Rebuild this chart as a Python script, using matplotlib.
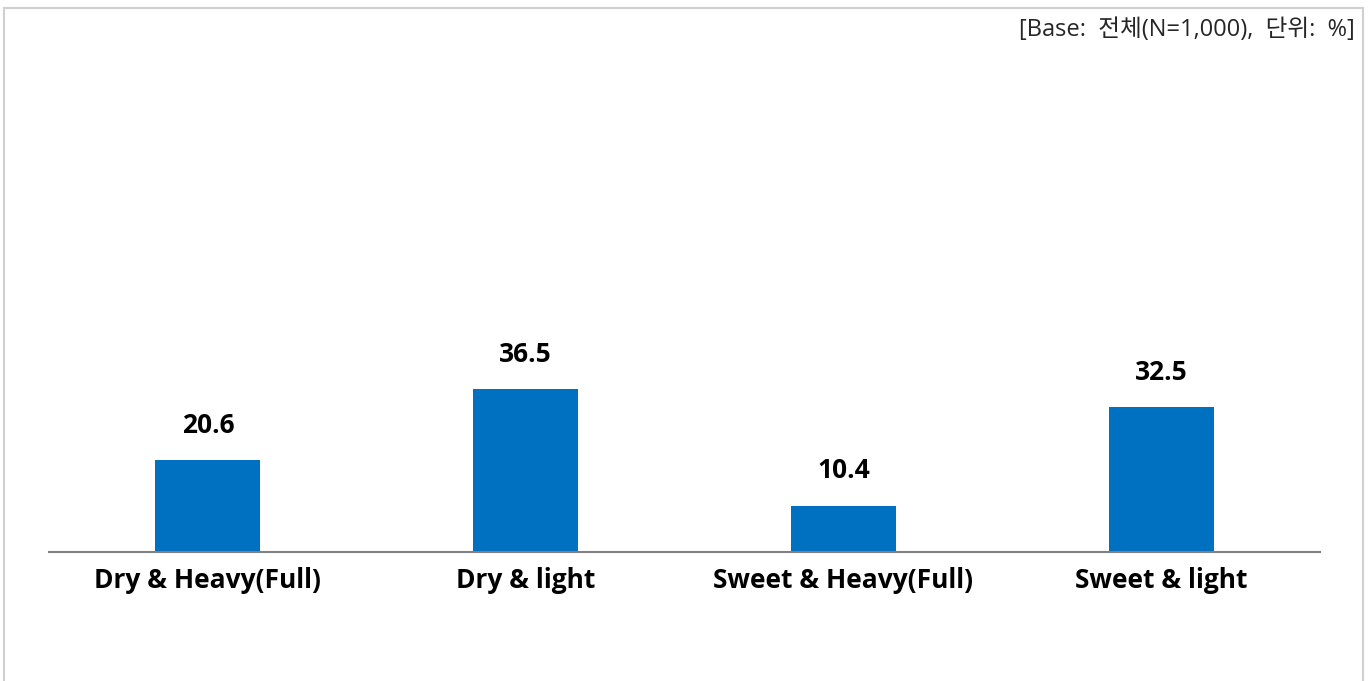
import matplotlib.pyplot as plt
from matplotlib.patches import Rectangle

plt.rcParams['font.family'] = ['Open Sans', 'Noto Sans CJK KR', 'DejaVu Sans']

# chart data
categories = ["Dry & Heavy(Full)", "Dry & light", "Sweet & Heavy(Full)", "Sweet & light"]
values = [20.6, 36.5, 10.4, 32.5]
base_note = "[Base:  전체(N=1,000),  단위:  %]"

fig = plt.figure(figsize=(13.7, 6.81), dpi=100)

# outer frame of the original slide box
fig.patches.append(Rectangle((4 / 1370, -0.01), 1359 / 1370, 1 - 8 / 681 + 0.01,
                             transform=fig.transFigure, fill=False,
                             edgecolor="#d0d0d0", linewidth=1.5))

ax = fig.add_axes([49 / 1370, 1 - 552 / 681, 1271 / 1370, 510 / 681])
x = range(len(categories))
bars = ax.bar(x, values, width=0.33, color="#0070C0")

ax.set_xlim(-0.5, len(categories) - 0.5)
ax.set_ylim(0, 114.3)

for b, v in zip(bars, values):
    ax.annotate(f"{v:.1f}", (b.get_x() + b.get_width() / 2, v),
                xytext=(0, 25), textcoords="offset points",
                ha="center", va="center", fontsize=19, fontweight="bold")

ax.set_xticks(list(x))
ax.set_xticklabels(categories, fontsize=19, fontweight="bold")
ax.tick_params(axis="x", length=0, pad=11)
ax.set_yticks([])
for s in ["top", "right", "left"]:
    ax.spines[s].set_visible(False)
ax.spines["bottom"].set_color("#808080")
ax.spines["bottom"].set_linewidth(1.5)

fig.text(1355 / 1370, 1 - 30 / 681, base_note, ha="right", va="center",
         fontsize=17, color="#262626")

fig.savefig("out.png", dpi=100)
